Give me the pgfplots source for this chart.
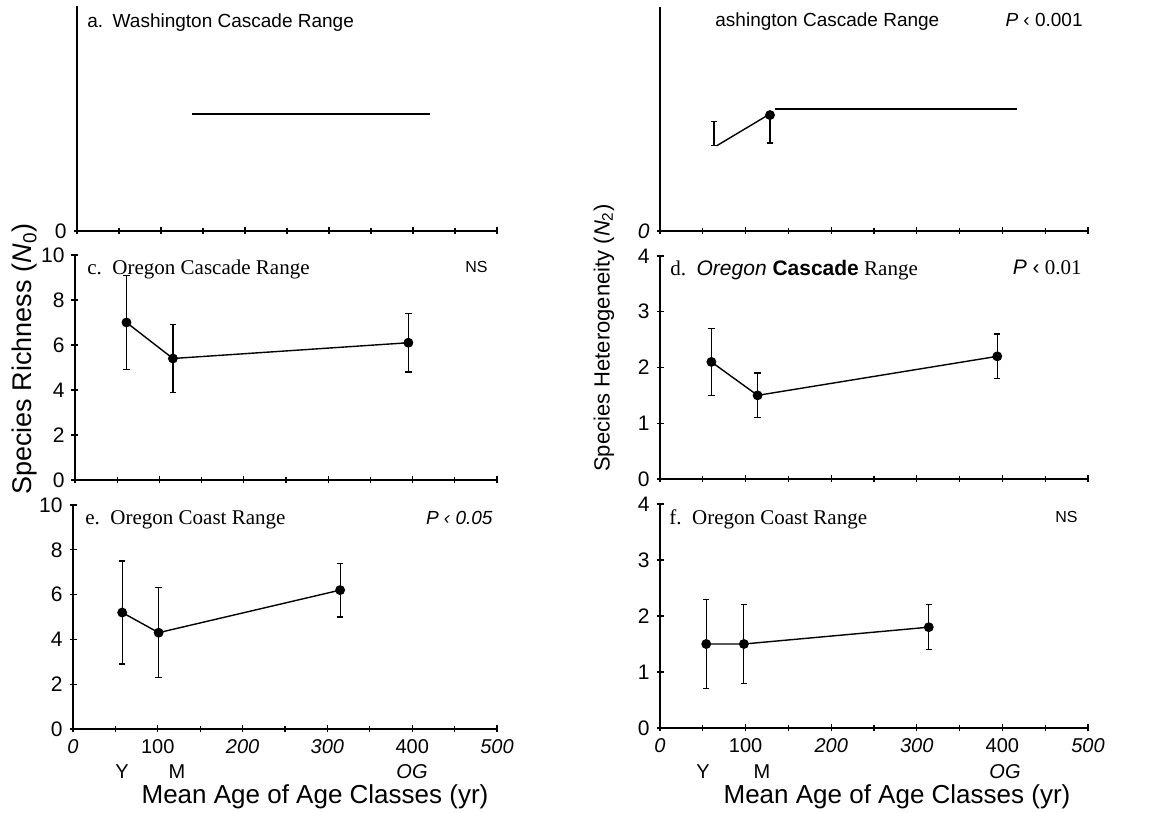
\documentclass[border=0pt]{standalone}
\usepackage{fontspec}
\setmainfont{Liberation Serif}
\setsansfont{Liberation Sans}
\usepackage{pgfplots}
\pgfplotsset{compat=1.18}

\newcommand{\fs}[1]{\fontsize{#1}{#1}\selectfont}

\pgfplotsset{
  panel/.style={
    scale only axis, anchor=south west,
    axis x line=bottom, axis y line=left,
    axis line style={-, line width=0.75pt},
    xmin=0, xmax=500,
    xtick={0,100,...,500}, minor xtick={50,150,...,450},
    xticklabels={{},{},{},{},{},{}},
    tick align=center, major tick length=3.5pt, minor tick length=3pt,
    every tick/.style={black, line width=0.6pt},
    yticklabel style={font=\sffamily\fs{10.5}},
    xticklabel style={font=\sffamily\fs{10}},
    clip=false,
  },
  leftcol/.style={ymin=0, ymax=10, ytick={0,2,...,10}, yticklabels={0,2,4,6,8,10}},
  rightcol/.style={ymin=0, ymax=4, ytick={0,1,...,4}, yticklabels={0,1,2,3,4}},
  bottomrow/.style={xticklabels={\textit{0},100,\textit{200},\textit{300},400,\textit{500}}},
  pts/.style={black, line width=0.7pt, mark=*, mark size=2.1pt,
    mark options={solid, fill=black},
    error bars/y dir=both, error bars/y explicit,
    error bars/error bar style={draw=black, line width=0.6pt},
    error bars/error mark options={draw=black, rotate=90, mark size=1.6pt, line width=0.6pt}},
}

\begin{document}
\begin{tikzpicture}
\useasboundingbox (0,0) rectangle (581.5pt,406.5pt);

% a. Washington, N0
\begin{axis}[panel, at={(38.5pt,291pt)}, width=210pt, height=112.5pt,
  ymin=0, ymax=10, ytick={0}, yticklabels={0}]
\addplot[black, line width=0.7pt, no marks] coordinates {(137,5.2) (420,5.2)};
\end{axis}

% b. Washington, N2
\begin{axis}[panel, at={(330pt,291pt)}, width=214pt, height=112pt,
  ymin=0, ymax=4, ytick={0}, yticklabels={\textit{0}}]
\addplot[black, line width=0.7pt, no marks] coordinates {(66,1.52) (124,2.05)};
\addplot[black, line width=0.7pt, no marks] coordinates {(134,2.18) (417,2.18)};
\addplot[pts, draw=none, no markers] coordinates {(63,1.735) +- (0,0.215)};
\addplot[pts, only marks] coordinates {(128.5,2.07) += (0,0) -= (0,0.5)};
\end{axis}

% c. Oregon Cascade, N0
\begin{axis}[panel, leftcol, at={(37.5pt,166.5pt)}, width=211pt, height=112.5pt]
\addplot[pts] coordinates {
  (61,7.0) +- (0,2.1)
  (116,5.4) +- (0,1.5)
  (395,6.1) +- (0,1.3)
};
\end{axis}

% d. Oregon Cascade, N2
\begin{axis}[panel, rightcol, at={(330pt,167pt)}, width=214pt, height=111.5pt]
\addplot[pts] coordinates {
  (60,2.1) +- (0,0.6)
  (114,1.5) +- (0,0.4)
  (394,2.2) +- (0,0.4)
};
\end{axis}

% e. Oregon Coast, N0
\begin{axis}[panel, leftcol, bottomrow, at={(36.5pt,42pt)}, width=212pt, height=112pt]
\addplot[pts] coordinates {
  (58,5.2) +- (0,2.3)
  (101,4.3) +- (0,2.0)
  (315,6.2) +- (0,1.2)
};
\end{axis}

% f. Oregon Coast, N2
\begin{axis}[panel, rightcol, bottomrow, at={(330pt,42.5pt)}, width=214pt, height=112pt]
\addplot[pts] coordinates {
  (54,1.5) +- (0,0.8)
  (98,1.5) +- (0,0.7)
  (314,1.8) +- (0,0.4)
};
\end{axis}

% text, placed in reference pixel coordinates
\begin{scope}[x=0.5pt, y=-0.5pt, shift={(0pt,406.5pt)}]
  \node[anchor=base west, inner sep=0, font=\sffamily\fs{9.5}] at (87,28) {a.\enspace Washington Cascade Range};
  \node[anchor=base west, inner sep=0, font=\sffamily\fs{9.5}] at (715,27) {ashington Cascade Range};
  \node[anchor=base east, inner sep=0, font=\sffamily\fs{9.5}] at (1083,27) {\textit{P} ‹ 0.001};

  \node[anchor=base west, inner sep=0, font=\rmfamily\fs{10.5}] at (87,275) {c.\enspace Oregon Cascade Range};
  \node[anchor=base east, inner sep=0, font=\sffamily\fs{8}] at (488,273) {NS};
  \node[anchor=base west, inner sep=0, font=\rmfamily\fs{10.5}] at (670,276) {d.\enspace\textsf{\textit{Oregon} \textbf{Cascade}} Range};
  \node[anchor=base east, inner sep=0, font=\rmfamily\fs{10.5}] at (1082,275) {\textsf{\textit{P} ‹} 0.01};

  \node[anchor=base west, inner sep=0, font=\rmfamily\fs{10.5}] at (85,525) {e.\enspace Oregon Coast Range};
  \node[anchor=base east, inner sep=0, font=\sffamily\fs{9.5}] at (493,525) {\textit{P ‹ 0.05}};
  \node[anchor=base west, inner sep=0, font=\rmfamily\fs{10.5}] at (669,525) {f.\enspace Oregon Coast Range};
  \node[anchor=base east, inner sep=0, font=\sffamily\fs{8}] at (1078,523) {NS};

  \node[rotate=90, inner sep=0, font=\sffamily\fs{13.5}] at (25,359) {Species Richness (\textit{N}\textsubscript{0})};
  \node[rotate=90, inner sep=0, font=\sffamily\fs{11}] at (604,338) {Species Heterogeneity (\textit{N}\textsubscript{2})};

  \foreach \lx/\lt in {122/Y, 177/M, 412/\textit{OG}, 703/Y, 762/M, 1005/\textit{OG}}
    \node[inner sep=0, font=\sffamily\fs{10}] at (\lx,772) {\lt};

  \node[inner sep=0, font=\sffamily\fs{13}] at (315,797) {Mean Age of Age Classes (yr)};
  \node[inner sep=0, font=\sffamily\fs{13}] at (897,797) {Mean Age of Age Classes (yr)};
\end{scope}
\end{tikzpicture}
\end{document}
